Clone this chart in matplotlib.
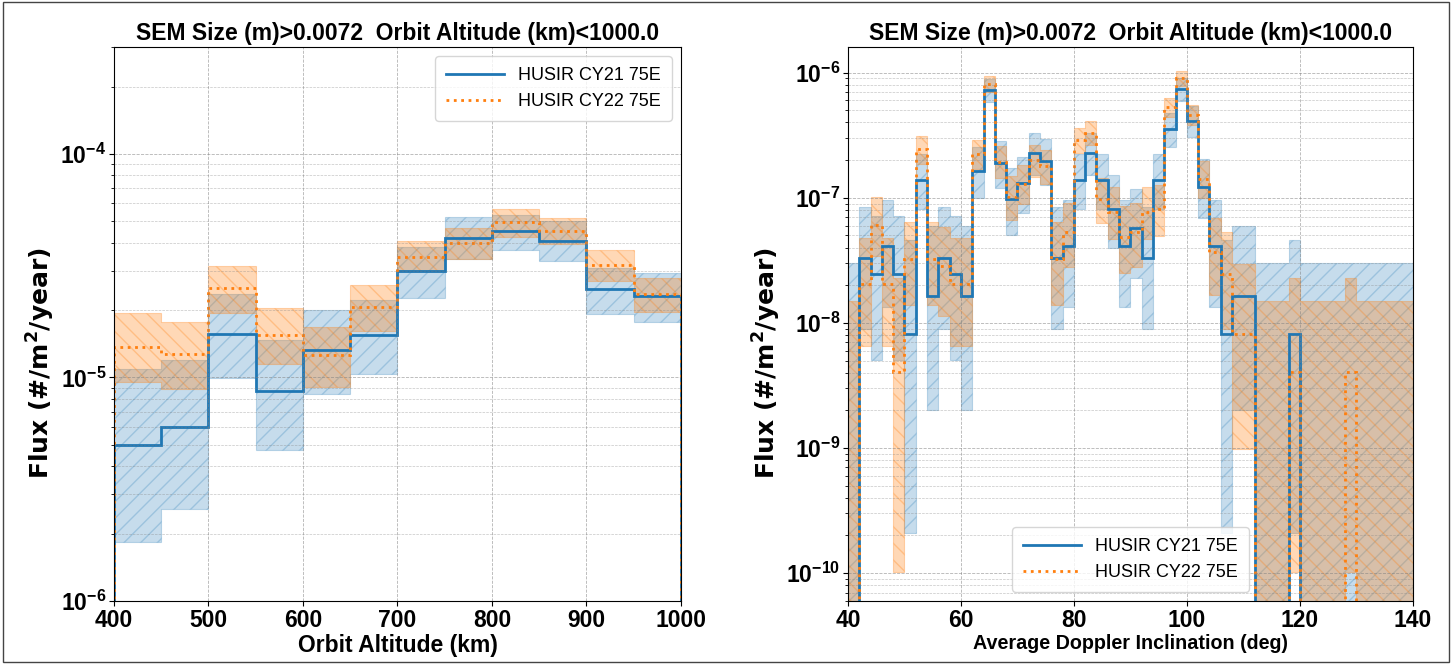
import numpy as np
import matplotlib
matplotlib.use("Agg")
import matplotlib.pyplot as plt
from matplotlib.patches import Rectangle

plt.rcParams['font.family'] = ['Liberation Sans', 'DejaVu Sans']

# ---- left panel: flux vs orbit altitude (50 km bins) ----
alt_edges = np.arange(400, 1001, 50)
cy21_alt = [5.0e-6, 6.0e-6, 1.57e-5, 8.7e-6, 1.32e-5, 1.54e-5,
            2.98e-5, 4.2e-5, 4.53e-5, 4.08e-5, 2.49e-5, 2.3e-5]
cy21_alt_lo = [1.84e-6, 2.59e-6, 9.9e-6, 4.75e-6, 8.4e-6, 1.03e-5,
               2.26e-5, 3.4e-5, 3.7e-5, 3.3e-5, 1.93e-5, 1.76e-5]
cy21_alt_hi = [1.09e-5, 1.19e-5, 2.36e-5, 1.47e-5, 2.0e-5, 2.22e-5,
               3.84e-5, 5.19e-5, 5.3e-5, 5.0e-5, 3.09e-5, 2.94e-5]
cy22_alt = [1.37e-5, 1.27e-5, 2.5e-5, 1.55e-5, 1.26e-5, 2.06e-5,
            3.46e-5, 4.0e-5, 4.95e-5, 4.5e-5, 3.18e-5, 2.36e-5]
cy22_alt_lo = [9.5e-6, 8.85e-6, 1.95e-5, 1.15e-5, 9.1e-6, 1.62e-5,
               2.98e-5, 3.4e-5, 4.24e-5, 3.94e-5, 2.7e-5, 1.97e-5]
cy22_alt_hi = [1.94e-5, 1.77e-5, 3.14e-5, 2.04e-5, 1.68e-5, 2.59e-5,
               4.08e-5, 4.65e-5, 5.65e-5, 5.15e-5, 3.7e-5, 2.78e-5]

# ---- right panel: flux vs doppler inclination (2 deg bins, 40-140) ----
inc_edges = np.arange(40, 141, 2)
cy21_inc = [0, 3.28e-8, 2.46e-8, 4.1e-8, 2.46e-8, 8.2e-9, 1.39e-7, 1.64e-8, 3.28e-8, 2.46e-8,
            1.64e-8, 1.64e-7, 7.22e-7, 1.89e-7, 9.84e-8, 1.31e-7, 2.3e-7, 1.97e-7, 3.28e-8, 4.1e-8,
            1.39e-7, 2.3e-7, 1.39e-7, 8.2e-8, 4.1e-8, 5.74e-8, 3.28e-8, 1.39e-7, 3.53e-7, 7.38e-7,
            4.1e-7, 1.23e-7, 4.1e-8, 8.2e-9, 1.64e-8, 1.64e-8, 0, 0, 0, 8.2e-9,
            0, 0, 0, 0, 0, 0, 0, 0, 0, 0]
cy21_inc_lo = [0, 8.9e-9, 5.1e-9, 1.33e-8, 5.1e-9, 2.1e-10, 8.1e-8, 2.0e-9, 8.9e-9, 5.1e-9,
               2.0e-9, 1.0e-7, 5.79e-7, 1.2e-7, 5.08e-8, 7.5e-8, 1.53e-7, 1.26e-7, 8.9e-9, 1.33e-8,
               8.1e-8, 1.53e-7, 8.1e-8, 3.94e-8, 1.33e-8, 2.3e-8, 8.9e-9, 8.1e-8, 2.55e-7, 5.93e-7,
               3.04e-7, 6.9e-8, 1.33e-8, 2.1e-10, 2.0e-9, 2.0e-9, 0, 0, 0, 2.1e-10,
               0, 0, 0, 0, 0, 0, 0, 0, 0, 0]
cy21_inc_hi = [3.03e-8, 8.4e-8, 7.2e-8, 9.6e-8, 7.2e-8, 4.6e-8, 2.23e-7, 5.9e-8, 8.4e-8, 7.2e-8,
               5.9e-8, 2.53e-7, 8.89e-7, 2.83e-7, 1.72e-7, 2.13e-7, 3.32e-7, 2.93e-7, 8.4e-8, 9.6e-8,
               2.23e-7, 3.32e-7, 2.23e-7, 1.51e-7, 9.6e-8, 1.18e-7, 8.4e-8, 2.23e-7, 4.75e-7, 9.07e-7,
               5.41e-7, 2.03e-7, 9.6e-8, 4.6e-8, 5.9e-8, 5.9e-8, 3.03e-8, 3.03e-8, 3.03e-8, 4.6e-8,
               3.03e-8, 3.03e-8, 3.03e-8, 3.03e-8, 3.03e-8, 3.03e-8, 3.03e-8, 3.03e-8, 3.03e-8, 3.03e-8]
cy22_inc = [0, 2.04e-8, 6.1e-8, 2.04e-8, 4.07e-9, 3.26e-8, 2.44e-7, 3.26e-8, 2.85e-8, 2.04e-8,
            2.04e-8, 2.24e-7, 8.14e-7, 1.95e-7, 1.02e-7, 1.3e-7, 1.99e-7, 1.79e-7, 3.26e-8, 5.29e-8,
            2.89e-7, 3.3e-7, 9.77e-8, 7.73e-8, 4.88e-8, 5.29e-8, 7.73e-8, 8.14e-8, 5.29e-7, 8.99e-7,
            4.6e-7, 1.42e-7, 3.66e-8, 2.44e-8, 8.14e-9, 8.14e-9, 0, 0, 0, 4.07e-9,
            0, 0, 0, 0, 4.07e-9, 0, 0, 0, 0, 0]
cy22_inc_lo = [0, 6.6e-9, 3.42e-8, 6.6e-9, 1.03e-10, 1.4e-8, 1.86e-7, 1.4e-8, 1.14e-8, 6.6e-9,
               6.6e-9, 1.69e-7, 7.05e-7, 1.44e-7, 6.59e-8, 8.91e-8, 1.48e-7, 1.3e-7, 1.4e-8, 2.82e-8,
               2.26e-7, 2.62e-7, 6.26e-8, 4.66e-8, 2.52e-8, 2.82e-8, 4.66e-8, 4.97e-8, 4.42e-7, 7.85e-7,
               3.79e-7, 9.92e-8, 1.67e-8, 8.95e-9, 9.8e-10, 9.8e-10, 0, 0, 0, 1.03e-10,
               0, 0, 0, 0, 1.03e-10, 0, 0, 0, 0, 0]
cy22_inc_hi = [1.5e-8, 4.75e-8, 1.01e-7, 4.75e-8, 2.27e-8, 6.41e-8, 3.14e-7, 6.41e-8, 5.86e-8, 4.75e-8,
               4.75e-8, 2.92e-7, 9.35e-7, 2.59e-7, 1.5e-7, 1.84e-7, 2.64e-7, 2.4e-7, 6.41e-8, 9.05e-8,
               3.64e-7, 4.1e-7, 1.45e-7, 1.21e-7, 8.53e-8, 9.05e-8, 1.21e-7, 1.26e-7, 6.28e-7, 1.03e-6,
               5.53e-7, 1.98e-7, 6.95e-8, 5.32e-8, 2.94e-8, 2.94e-8, 1.5e-8, 1.5e-8, 1.5e-8, 2.27e-8,
               1.5e-8, 1.5e-8, 1.5e-8, 1.5e-8, 2.27e-8, 1.5e-8, 1.5e-8, 1.5e-8, 1.5e-8, 1.5e-8]

labels = ["HUSIR CY21 75E", "HUSIR CY22 75E"]
title = "SEM Size (m)>0.0072  Orbit Altitude (km)<1000.0"


def draw_panel(ax, edges, series, xlabel, xlim, ylim, xticks, yticks, legend_loc, ylab_x, xlab_size):
    styles = [dict(color="C0", hatch="//", alpha=0.25, ls="-"),
              dict(color="C1", hatch="\\\\", alpha=0.3, ls=":")]
    for (val, lo, hi), st in zip(series, styles):
        lo = np.asarray(lo, float)
        hi = np.asarray(hi, float)
        ax.fill_between(edges, np.append(lo, lo[-1]), np.append(hi, hi[-1]), step="post",
                        color=st["color"], alpha=st["alpha"], hatch=st["hatch"], lw=0.8)
    for (val, lo, hi), st, lab in zip(series, styles, labels):
        ax.stairs(val, edges, baseline=0, color=st["color"], ls=st["ls"], lw=2, label=lab)
    ax.set_yscale("log")
    ax.set_xlim(*xlim)
    ax.set_ylim(*ylim)
    ax.set_xticks(xticks)
    ax.set_yticks(yticks)
    ax.grid(True, which="major", ls="--", color="gray", alpha=0.6, lw=0.6)
    ax.grid(True, which="minor", axis="y", ls="--", color="gray", alpha=0.45, lw=0.5)
    ax.set_title(title, fontsize=16.5, fontweight="bold", pad=5)
    ax.set_xlabel(xlabel, fontsize=xlab_size, fontweight="bold", labelpad=2)
    ax.set_ylabel(r"Flux (#/m$^\mathbf{2}$/year)", fontsize=18, fontweight="bold",
                  family=["DejaVu Sans"])
    ax.yaxis.set_label_coords(ylab_x, 0.43)
    ax.tick_params(axis="both", which="major", labelsize=16.5, pad=2)
    for t in ax.get_xticklabels() + ax.get_yticklabels():
        t.set_fontweight("bold")
    ax.legend(loc=legend_loc, fontsize=13, handlelength=3.2, borderpad=0.6)


fig = plt.figure(figsize=(14.52, 6.64), dpi=100)
ax1 = fig.add_axes([0.0785, 0.095, 0.3905, 0.834])
ax2 = fig.add_axes([0.584, 0.095, 0.389, 0.834])

draw_panel(ax1, alt_edges,
           [(cy21_alt, cy21_alt_lo, cy21_alt_hi), (cy22_alt, cy22_alt_lo, cy22_alt_hi)],
           "Orbit Altitude (km)", (400, 1000), (1e-6, 3e-4),
           np.arange(400, 1001, 100), [1e-6, 1e-5, 1e-4], "upper right", -0.10, 16.5)
draw_panel(ax2, inc_edges,
           [(cy21_inc, cy21_inc_lo, cy21_inc_hi), (cy22_inc, cy22_inc_lo, cy22_inc_hi)],
           "Average Doppler Inclination (deg)", (40, 140), (6e-11, 1.6e-6),
           np.arange(40, 141, 20), [1e-10, 1e-9, 1e-8, 1e-7, 1e-6], "lower center", -0.115, 14.2)

# thin frame around the whole picture
fig.patches.append(Rectangle((0.002, 0.003), 0.996, 0.994, transform=fig.transFigure,
                             fill=False, ec="#444444", lw=1))

fig.savefig("out.png", dpi=100)
